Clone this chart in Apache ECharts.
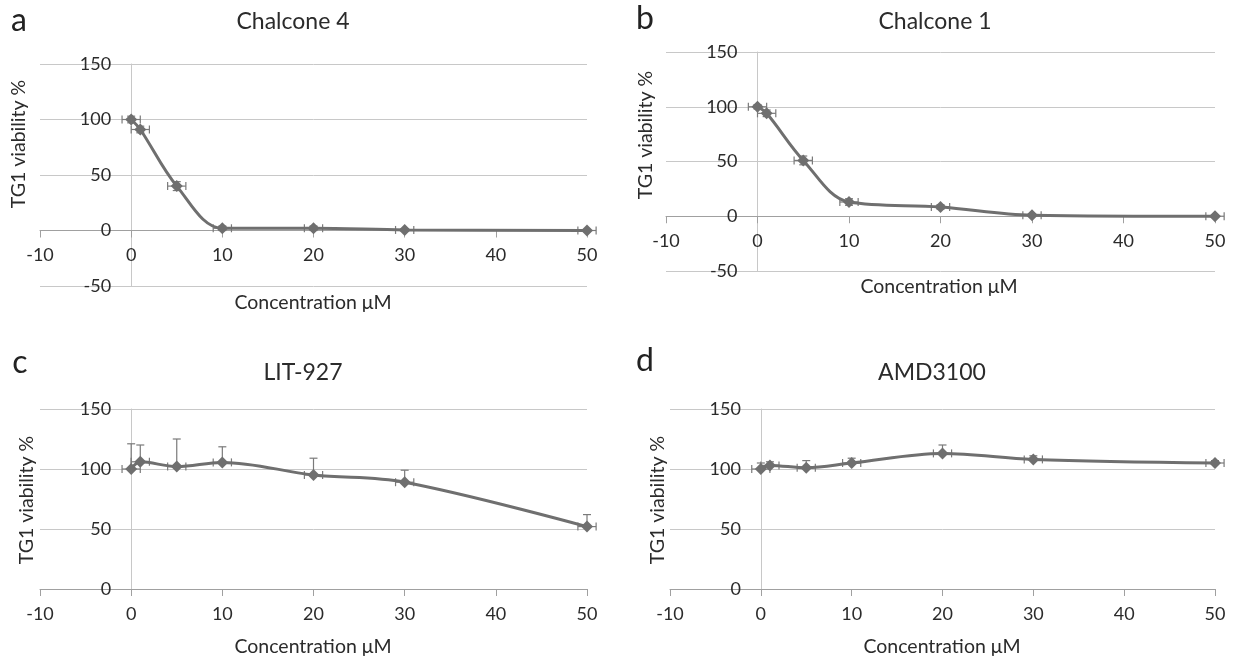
<!DOCTYPE html>
<html>
<head>
<meta charset="utf-8">
<script src="https://cdn.jsdelivr.net/npm/echarts@6/dist/echarts.min.js"></script>
<style>
html,body{margin:0;padding:0;background:#fff;}
#chart{width:1236px;height:659px;}
</style>
</head>
<body>
<div id="chart"></div>
<script>
// ---- data ----
const concentrations = [0, 1, 5, 10, 20, 30, 50];
const concErr = [1, 1, 1, 1, 1, 1, 1];

const chalcone4 = [100, 91, 40, 2, 2, 0.5, 0];
const chalcone4Err = [3, 3, 4, 2, 2, 1, 1];

const chalcone1 = [100, 94, 51, 13, 8.5, 1, 0];
const chalcone1Err = [2, 3, 4, 3, 2, 1, 1];

const lit927 = [100, 106, 102, 105.5, 95, 89, 52];
const lit927ErrPlus = [21, 14, 23, 13, 14, 10, 10];

const amd3100 = [100, 103, 101, 105, 113, 108, 105];
const amd3100ErrPlus = [5, 3, 6, 4, 7, 3, 2];

const xMin = -10, xMax = 50, xStep = 10;
const yMax = 150, yStep = 50;

const panelTitles = ['Chalcone 4', 'Chalcone 1', 'LIT-927', 'AMD3100'];
const panelLetters = ['a', 'b', 'c', 'd'];
const xTitle = 'Concentration μM';
const yTitle = 'TG1 viability %';

// ---- layout ----
const FONT = 'Lato';
const TXT = '#2b2b2b';
const GRAY = '#6f6f6f';

const panels = [
  {values: chalcone4, errP: chalcone4Err, errM: chalcone4Err, ymin: -50,
   grid: {left: 40, top: 64, width: 547, height: 222},
   title: [293, 22], letter: [19, 21], yname: [19, 144], xname: [313, 303]},
  {values: chalcone1, errP: chalcone1Err, errM: chalcone1Err, ymin: -50,
   grid: {left: 666, top: 52, width: 549, height: 219},
   title: [935, 22], letter: [645, 19], yname: [646, 135], xname: [939, 287]},
  {values: lit927, errP: lit927ErrPlus, errM: lit927ErrPlus.map(() => 0), ymin: 0,
   grid: {left: 40, top: 409, width: 547, height: 180},
   title: [303, 373], letter: [20, 363], yname: [27, 500], xname: [313, 647]},
  {values: amd3100, errP: amd3100ErrPlus, errM: amd3100ErrPlus.map(() => 0), ymin: 0,
   grid: {left: 670, top: 409, width: 545, height: 180},
   title: [932, 373], letter: [645, 361], yname: [658, 500], xname: [942, 647]}
];

function errRender(params, api) {
  const x = api.value(0), y = api.value(1), ex = api.value(2), ep = api.value(3), em = api.value(4);
  const c = api.coord([x, y]);
  const children = [];
  const st = {stroke: '#7a7a7a', lineWidth: 1.2};
  const cap = 4;
  if (ep > 0) {
    const t = api.coord([x, y + ep]);
    children.push({type: 'line', shape: {x1: c[0], y1: c[1], x2: t[0], y2: t[1]}, style: st});
    children.push({type: 'line', shape: {x1: t[0] - cap, y1: t[1], x2: t[0] + cap, y2: t[1]}, style: st});
  }
  if (em > 0) {
    const b = api.coord([x, y - em]);
    children.push({type: 'line', shape: {x1: c[0], y1: c[1], x2: b[0], y2: b[1]}, style: st});
    children.push({type: 'line', shape: {x1: b[0] - cap, y1: b[1], x2: b[0] + cap, y2: b[1]}, style: st});
  }
  if (ex > 0) {
    const l = api.coord([x - ex, y]);
    const r = api.coord([x + ex, y]);
    children.push({type: 'line', shape: {x1: l[0], y1: l[1], x2: r[0], y2: r[1]}, style: st});
    children.push({type: 'line', shape: {x1: l[0], y1: l[1] - cap, x2: l[0], y2: l[1] + cap}, style: st});
    children.push({type: 'line', shape: {x1: r[0], y1: r[1] - cap, x2: r[0], y2: r[1] + cap}, style: st});
  }
  return {type: 'group', children: children};
}

const grids = [], xAxes = [], yAxes = [], series = [], graphics = [];
panels.forEach((p, i) => {
  grids.push(Object.assign({containLabel: false, outerBoundsMode: 'none'}, p.grid));
  // axes cross at zero: shift the axis lines into the plot by the zero's fraction
  const xOffset = -p.grid.height * (0 - p.ymin) / (yMax - p.ymin);
  const yOffset = -p.grid.width * (0 - xMin) / (xMax - xMin);
  xAxes.push({
    type: 'value', gridIndex: i, min: xMin, max: xMax, interval: xStep,
    position: 'bottom', offset: xOffset,
    axisLine: {show: true, onZero: false, lineStyle: {color: '#a0a0a0', width: 1}},
    axisTick: {show: true, length: 7, lineStyle: {color: '#a0a0a0'}},
    axisLabel: {fontFamily: FONT, fontSize: 18, color: TXT, margin: 16},
    splitLine: {show: false}
  });
  yAxes.push({
    type: 'value', gridIndex: i, min: p.ymin, max: yMax, interval: yStep,
    position: 'left', offset: yOffset,
    axisLine: {show: true, onZero: false, lineStyle: {color: '#c8c8c8', width: 1}},
    axisTick: {show: false},
    axisLabel: {fontFamily: FONT, fontSize: 18, color: TXT, margin: 20},
    splitLine: {show: true, lineStyle: {color: '#c8c8c8', width: 1}}
  });
  series.push({
    type: 'custom', xAxisIndex: i, yAxisIndex: i, z: 3, silent: true,
    renderItem: errRender,
    data: concentrations.map((x, k) => [x, p.values[k], concErr[k], p.errP[k], p.errM[k]])
  });
  series.push({
    type: 'line', xAxisIndex: i, yAxisIndex: i, z: 4, smooth: 0.35,
    symbol: 'diamond', symbolSize: 12, showSymbol: true,
    itemStyle: {color: GRAY}, lineStyle: {color: GRAY, width: 3},
    data: concentrations.map((x, k) => [x, p.values[k]])
  });
  graphics.push({type: 'text', x: p.title[0], y: p.title[1],
    style: {text: panelTitles[i], font: '23px ' + FONT, fill: TXT, align: 'center', verticalAlign: 'middle'}});
  graphics.push({type: 'text', x: p.letter[0], y: p.letter[1],
    style: {text: panelLetters[i], font: '32px ' + FONT, fill: '#222', align: 'center', verticalAlign: 'middle'}});
  graphics.push({type: 'text', x: p.xname[0], y: p.xname[1],
    style: {text: xTitle, font: '19.5px ' + FONT, fill: TXT, align: 'center', verticalAlign: 'middle'}});
  graphics.push({type: 'text', x: p.yname[0], y: p.yname[1], rotation: Math.PI / 2,
    style: {text: yTitle, font: '19.5px ' + FONT, fill: TXT, align: 'center', verticalAlign: 'middle'}});
});

const chart = echarts.init(document.getElementById('chart'), null, {renderer: 'canvas'});
chart.setOption({
  backgroundColor: '#ffffff',
  animation: false,
  grid: grids, xAxis: xAxes, yAxis: yAxes, series: series, graphic: graphics
});
</script>
</body>
</html>
